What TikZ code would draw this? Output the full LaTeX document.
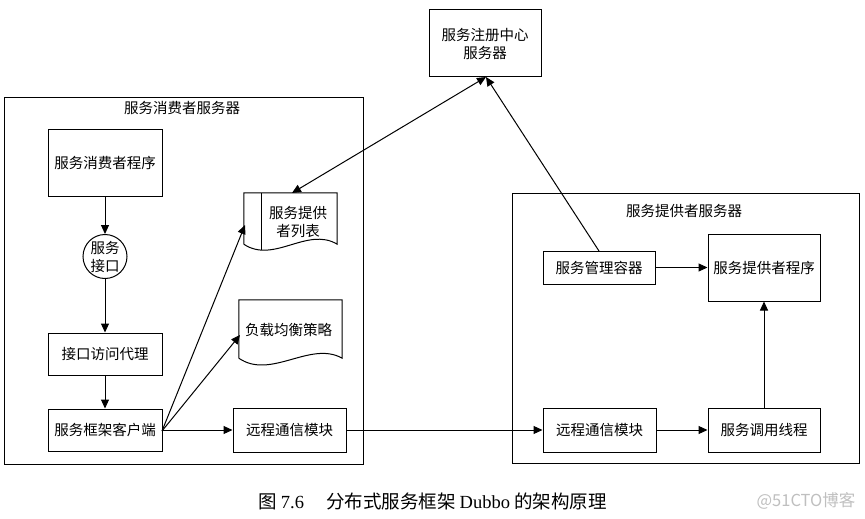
\documentclass[tikz,border=0pt]{standalone}
\usepackage{fontspec}
\setmainfont{Noto Sans CJK SC}
\newfontfamily\latinserif{Liberation Serif}
\usetikzlibrary{arrows.meta}
\tikzset{
  box/.style={draw,line width=1pt,inner sep=0pt,font=\fontsize{14.5}{18}\selectfont,align=center},
  doctext/.style={inner sep=0pt,font=\fontsize{14.5}{18}\selectfont,align=center},
  arrow/.style={line width=1pt,-{Triangle[length=9pt,width=8pt]}},
  line/.style={line width=1pt}
}
\newcommand{\boxat}[6]{\node[box,minimum width=#4 pt-#3 pt,minimum height=#6 pt-#5 pt] (#1) at ({(#3+#4)/2},{(#5+#6)/2}) {#2};}
\begin{document}
\begin{tikzpicture}[x=1pt,y=-1pt]
  \useasboundingbox (0,0) rectangle (865,519);
  % servers
  \boxat{consumerserver}{}{4}{363}{97}{464}
  \boxat{providerserver}{}{512}{859}{193}{463}
  \node[doctext] (consumertitle) at (182,108) {服务消费者服务器};
  \node[doctext] (providertitle) at (684,211) {服务提供者服务器};
  % boxes
  \boxat{registry}{服务注册中心\\服务器}{429}{541}{10}{77}
  \boxat{consumer}{服务消费者程序}{48}{162}{129}{196}
  \node[box,circle,inner sep=-2pt,minimum size=44pt] (iface) at (105,256.5) {服务\\接口};
  \boxat{proxy}{接口访问代理}{48}{162}{333}{375}
  \boxat{client}{服务框架客户端}{48}{162}{409}{451}
  \boxat{commleft}{远程通信模块}{233}{346}{408}{452}
  \boxat{manager}{服务管理容器}{543}{655}{251}{284}
  \boxat{provider}{服务提供者程序}{708}{820}{234}{301}
  \boxat{commright}{远程通信模块}{543}{656}{408}{452}
  \boxat{thread}{服务调用线程}{708}{820}{408}{452}
  % documents
  \node[doctext,minimum width=93pt,minimum height=51pt] (doclist) at (290.5,218.5) {};
  \node[doctext] (doclisttext) at (298,222) {服务提供\\者列表};
  \draw[line] (doclist.south west) -- (doclist.north west) -- (doclist.north east) -- (doclist.south east)
    .. controls +(-30,-18) and +(30,20) .. (doclist.south west);
  \coordinate (listbartop) at (261,193);
  \coordinate (listbarbottom) at (261,250);
  \draw[line] (listbartop) -- (listbarbottom);
  \node[doctext,minimum width=103pt,minimum height=58pt] (docbalance) at (290.5,329) {};
  \node[doctext] (docbalancetext) at (288.5,330) {负载均衡策略};
  \draw[line] (docbalance.south west) -- (docbalance.north west) -- (docbalance.north east) -- (docbalance.south east)
    .. controls +(-32,-18) and +(32,22) .. (docbalance.south west);
  % arrows
  \coordinate (listtop) at (292,193);
  \coordinate (listleft) at (245,225);
  \coordinate (balanceleft) at (240,335);
  \coordinate (clientright) at (162,431);
  \coordinate (registrybottom) at (486,77);
  \coordinate (managertop) at (599,251);
  \draw[arrow] (consumer) -- (iface);
  \draw[arrow] (iface) -- (proxy);
  \draw[arrow] (proxy) -- (client);
  \draw[arrow] (clientright) -- (listleft);
  \draw[arrow] (clientright) -- (balanceleft);
  \draw[arrow] (client) -- (commleft);
  \draw[arrow] (commleft) -- (commright);
  \draw[arrow] (commright) -- (thread);
  \draw[arrow] (thread) -- (provider);
  \draw[arrow] (manager) -- (provider);
  \draw[arrow] (managertop) -- (registrybottom);
  \draw[line,{Triangle[length=9pt,width=8pt]}-{Triangle[length=9pt,width=8pt]}] (registrybottom) -- (listtop);
  % caption
  \node[inner sep=0pt,font=\fontsize{18.5}{20}\selectfont] (caption) at (432.5,501) {图 {\latinserif 7.6}\hspace{22pt}分布式服务框架 {\latinserif Dubbo} 的架构原理};
  \node[inner sep=0pt,text=black!25,font=\fontsize{16.5}{18}\selectfont] (mark) at (806,501) {@51CTO博客};
\end{tikzpicture}
\end{document}
